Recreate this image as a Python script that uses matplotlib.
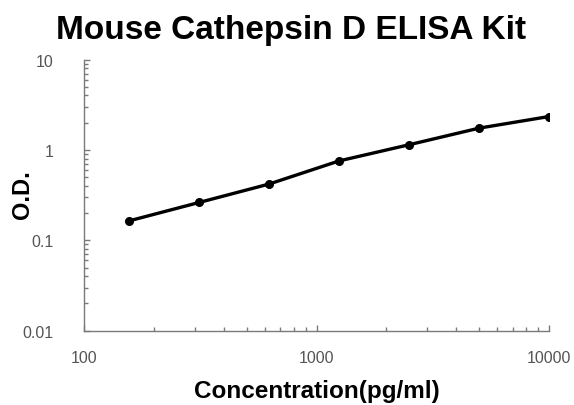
import matplotlib
matplotlib.use("Agg")
import matplotlib.pyplot as plt
from matplotlib.ticker import LogLocator, NullFormatter

concentration = [156.25, 312.5, 625, 1250, 2500, 5000, 10000]
od = [0.164, 0.262, 0.419, 0.755, 1.14, 1.74, 2.34]
x_ticks = [100, 1000, 10000]
x_tick_labels = ["100", "1000", "10000"]
y_ticks = [0.01, 0.1, 1, 10]
y_tick_labels = ["0.01", "0.1", "1", "10"]

plt.rcParams['font.family'] = ['Liberation Sans', 'DejaVu Sans']

fig = plt.figure(figsize=(5.74, 4.06), dpi=100)
ax = fig.add_axes([84/574, 1-331.7/406, (549-84)/574, (331.7-60.5)/406])

ax.plot(concentration, od, color='black', lw=2.4, marker='o', ms=5.5, zorder=3)
ax.set_xscale('log')
ax.set_yscale('log')
ax.set_xlim(100, 10000)
ax.set_ylim(0.01, 10)

ax.set_xticks(x_ticks)
ax.set_xticklabels(x_tick_labels)
ax.set_yticks(y_ticks)
ax.set_yticklabels(y_tick_labels)
ax.xaxis.set_minor_locator(LogLocator(base=10, subs=range(2, 10)))
ax.yaxis.set_minor_locator(LogLocator(base=10, subs=range(2, 10)))
ax.xaxis.set_minor_formatter(NullFormatter())
ax.yaxis.set_minor_formatter(NullFormatter())

gray = '#7a7a7a'
for s in ['top', 'right']:
    ax.spines[s].set_visible(False)
for s in ['left', 'bottom']:
    ax.spines[s].set_color(gray)
    ax.spines[s].set_linewidth(1.0)

ax.tick_params(which='major', direction='in', length=4, width=1, color=gray,
               labelcolor='#555555', labelsize=11.5, pad=14)
ax.tick_params(which='minor', direction='in', length=3, width=1, color=gray)
ax.tick_params(axis='y', pad=22)

fig.text(291/574, 1-30/406, "Mouse Cathepsin D ELISA Kit", ha='center', va='center',
         fontsize=24, fontweight='bold', color='black')
fig.text(316.5/574, 1-392/406, "Concentration(pg/ml)", ha='center', va='center',
         fontsize=17.5, fontweight='bold', color='black')
fig.text(22/574, 1-195/406, "O.D.", ha='center', va='center', rotation=90,
         fontsize=17, fontweight='bold', color='black')

fig.savefig("out.png", dpi=100, facecolor='white')
